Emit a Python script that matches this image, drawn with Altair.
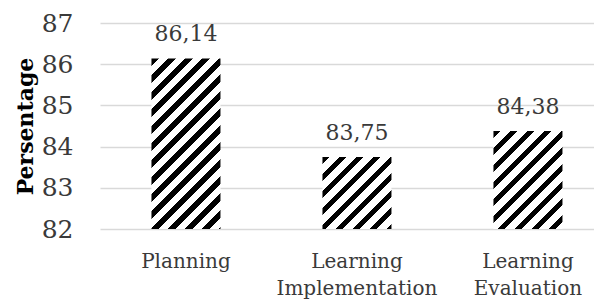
import altair as alt
import pandas as pd

# ---- data ----
categories = ["Planning", "Learning Implementation", "Learning Evaluation"]
values = [86.14, 83.75, 84.38]
y_ticks = [82, 83, 84, 85, 86, 87]
y_domain = [82, 87]
y_title = "Persentage"

# ---- layout / style ----
W, H = 494, 206
PAD_INNER, PAD_OUTER, ALIGN = 0.5965, 0.2427, 0.62
FONT = "DejaVu Serif"
TEXT_COLOR = "#3a3a3a"
GRID_COLOR = "#d9d9d9"

step = W / (len(categories) - PAD_INNER + 2 * PAD_OUTER)
bandwidth = step * (1 - PAD_INNER)


def hatch(w, h, period=17.0, black=0.42):
    """Diagonal '///' hatch built as a linear gradient with hard stops."""
    s = w + h
    d = w * w + h * h
    x2 = w * s / d
    y2 = h * s / d
    p = period / s
    stops = []
    k = 0
    while k * p < 1:
        a = k * p
        b = min(a + black * p, 1.0)
        stops += [
            alt.GradientStop(offset=a, color="white"),
            alt.GradientStop(offset=a, color="black"),
            alt.GradientStop(offset=b, color="black"),
            alt.GradientStop(offset=b, color="white"),
        ]
        k += 1
    stops.append(alt.GradientStop(offset=1.0, color="white"))
    return alt.LinearGradient(gradient="linear", stops=stops, x1=0, y1=0, x2=x2, y2=y2)


df = pd.DataFrame({"category": categories, "value": values})

x_scale = alt.Scale(domain=categories, paddingInner=PAD_INNER, paddingOuter=PAD_OUTER, align=ALIGN)
y_scale = alt.Scale(domain=y_domain, nice=False, zero=False)

x_axis = alt.Axis(
    title=None, labelAngle=0, labelExpr="split(datum.value, ' ')",
    ticks=False, domain=False, grid=False, labelPadding=22,
    labelFont=FONT, labelFontSize=20, labelColor=TEXT_COLOR,
    labelLineHeight=27, labelBaseline="top",
)
y_axis = alt.Axis(
    values=y_ticks, title=y_title, titleFont=FONT, titleFontSize=22,
    titleFontWeight="bold", titleColor="black", titleX=-75, titleAngle=-90,
    titleBaseline="middle", ticks=False, domain=False, grid=True,
    gridColor=GRID_COLOR, gridWidth=1.5, labelPadding=27,
    labelFont=FONT, labelFontSize=25, labelColor=TEXT_COLOR,
)

X = alt.X("category:N", scale=x_scale, axis=x_axis, sort=categories)
Y = alt.Y("value:Q", scale=y_scale, axis=y_axis)

base = alt.Chart(df)
layers = []
for cat, val in zip(categories, values):
    h = (val - y_domain[0]) / (y_domain[1] - y_domain[0]) * H
    layers.append(
        base.transform_filter(alt.datum.category == cat)
        .mark_bar(fill=hatch(bandwidth, h))
        .encode(x=X, y=Y, y2=alt.datum(y_domain[0]))
    )

labels = (
    base.transform_calculate(label="replace(format(datum.value, '.2f'), '.', ',')")
    .mark_text(dy=-17, baseline="alphabetic", font=FONT, fontSize=22, color=TEXT_COLOR)
    .encode(x=X, y=Y, text="label:N")
)

chart = (
    alt.layer(*layers, labels)
    .properties(
        width=W, height=H,
        autosize=alt.AutoSizeParams(type="none"),
        padding={"left": 92, "top": 15, "right": 0, "bottom": 75},
    )
    .configure_view(stroke=None)
)

chart.save("out.html", embed_options={"renderer": "svg", "actions": False})
